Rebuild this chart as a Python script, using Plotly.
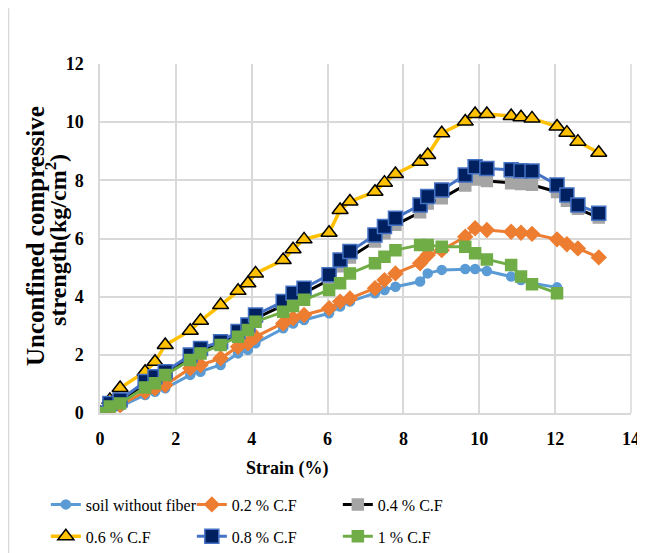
import plotly.graph_objects as go

strain = [0, 0.26, 0.53, 1.19, 1.45, 1.72, 2.38, 2.65, 3.18, 3.64, 3.9, 4.1,
          4.83, 5.09, 5.38, 6.04, 6.33, 6.59, 7.25, 7.5, 7.79, 8.44, 8.64, 9.01,
          9.63, 9.89, 10.2, 10.84, 11.1, 11.39, 12.05, 12.31, 12.6, 13.15]

soil = [0, 0.1, 0.22, 0.62, 0.73, 0.85, 1.31, 1.42, 1.65, 2.05, 2.17, 2.4,
        2.91, 3.08, 3.2, 3.43, 3.66, 3.83, 4.12, 4.23, 4.34, 4.52, 4.8, 4.92,
        4.95, 4.95, 4.88, 4.69, 4.57, 4.46, 4.32]
cf02 = [0, 0.12, 0.27, 0.73, 0.85, 0.96, 1.54, 1.65, 1.88, 2.28, 2.4, 2.62,
        3.08, 3.26, 3.37, 3.6, 3.83, 3.94, 4.29, 4.57, 4.8, 5.15, 5.43, 5.6,
        6.06, 6.35, 6.29, 6.23, 6.2, 6.16, 5.97, 5.8, 5.66, 5.35]
cf04 = [0, 0.3, 0.42, 1.0, 1.17, 1.35, 1.93, 2.15, 2.38, 2.72, 2.93, 3.25,
        3.7, 3.95, 4.12, 4.58, 5.05, 5.35, 5.9, 6.18, 6.47, 6.9, 7.2, 7.38,
        7.82, 8.03, 7.98, 7.9, 7.87, 7.85, 7.6, 7.3, 7.02, 6.72]
cf06 = [0, 0.45, 0.86, 1.42, 1.76, 2.34, 2.83, 3.17, 3.71, 4.2, 4.46, 4.8,
        5.26, 5.63, 5.97, 6.2, 6.98, 7.27, 7.61, 7.92, 8.22, 8.64, 8.87, 9.62,
        10.02, 10.28, 10.28, 10.21, 10.17, 10.13, 9.85, 9.64, 9.33, 8.95]
cf08 = [0, 0.33, 0.45, 1.08, 1.25, 1.42, 1.99, 2.22, 2.45, 2.8, 3.03, 3.37,
        3.83, 4.12, 4.29, 4.75, 5.26, 5.55, 6.12, 6.41, 6.7, 7.15, 7.44, 7.67,
        8.18, 8.47, 8.41, 8.36, 8.33, 8.32, 7.84, 7.5, 7.15, 6.87]
cf10 = [0, 0.22, 0.33, 0.88, 1.02, 1.31, 1.82, 2.05, 2.34, 2.62, 2.85, 3.14,
        3.48, 3.68, 3.89, 4.23, 4.46, 4.8, 5.15, 5.37, 5.6, 5.78, 5.78, 5.72,
        5.72, 5.49, 5.28, 5.09, 4.69, 4.43, 4.12]

names = ["soil without fiber", "0.2 % C.F", "0.4 % C.F", "0.6 % C.F", "0.8 % C.F", "1 % C.F"]
x_ticks = [0, 2, 4, 6, 8, 10, 12, 14]
y_ticks = [0, 2, 4, 6, 8, 10, 12]

FONT = "Liberation Serif"

fig = go.Figure()

def add(name, y, line_color, symbol, fill, outline, size, legend, lw=3):
    fig.add_trace(go.Scatter(
        x=strain[:len(y)], y=y, name=name, mode="lines+markers",
        legend=legend,
        line=dict(color=line_color, width=lw),
        marker=dict(symbol=symbol, color=fill, size=size,
                    line=dict(color=outline, width=1.5)),
    ))

add(names[0], soil, "#5B9BD5", "circle", "#5B9BD5", "#5B9BD5", 9, "legend")
add(names[1], cf02, "#ED7D31", "diamond", "#ED7D31", "#ED7D31", 11, "legend")
add(names[2], cf04, "#000000", "square", "#A5A5A5", "#A5A5A5", 11, "legend")
add(names[3], cf06, "#FFC000", "triangle-up", "#FFC000", "#000000", 14, "legend2", lw=3.5)
add(names[4], cf08, "#4472C4", "square", "#002060", "#4472C4", 14, "legend2")
add(names[5], cf10, "#70AD47", "square", "#70AD47", "#70AD47", 11, "legend2")

axis_font = dict(family=FONT, size=18, color="#000000")
leg_common = dict(
    orientation="h", x=-0.102, xanchor="left", yanchor="top",
    font=dict(family=FONT, size=16, color="#000000"),
    entrywidth=101, entrywidthmode="pixels",
    itemwidth=30, bgcolor="rgba(0,0,0,0)",
)

fig.update_layout(
    width=637, height=562,
    margin=dict(l=92, r=14, t=56, b=157),
    paper_bgcolor="white", plot_bgcolor="white",
    font=dict(family=FONT, color="#000000"),
    showlegend=True,
    legend=dict(y=-0.2135, **leg_common),
    legend2=dict(y=-0.305, **leg_common),
    xaxis=dict(
        range=[0, 14], tickvals=x_ticks, ticktext=[f"<b>{t}</b>" for t in x_ticks],
        showgrid=True, gridcolor="#D9D9D9", gridwidth=1.5,
        showline=True, linecolor="#D9D9D9", linewidth=1.5,
        zeroline=False, tickfont=axis_font, ticks="", ticklabelstandoff=9,
        automargin=False,
    ),
    yaxis=dict(
        range=[0, 12], tickvals=y_ticks, ticktext=[f"<b>{t}</b>" for t in y_ticks],
        showgrid=True, gridcolor="#D9D9D9", gridwidth=1.5,
        showline=True, linecolor="#D9D9D9", linewidth=1.5,
        zeroline=False, tickfont=axis_font, ticks="", ticklabelstandoff=11,
        automargin=False,
    ),
    annotations=[
        dict(text="<b>Strain (%)</b>", xref="paper", yref="paper",
             x=0.354, y=-0.158, xanchor="center", yanchor="middle",
             showarrow=False, font=dict(family=FONT, size=18, color="#000000")),
        dict(text="<b>Unconfined compressive</b>", xref="paper", yref="paper",
             x=-0.1224, y=0.507, xanchor="center", yanchor="middle", textangle=-90,
             showarrow=False, font=dict(family=FONT, size=25, color="#000000")),
        dict(text="<b>strength(kg/cm<sup>2</sup>)</b>", xref="paper", yref="paper",
             x=-0.0829, y=0.496, xanchor="center", yanchor="middle", textangle=-90,
             showarrow=False, font=dict(family=FONT, size=24, color="#000000")),
    ],
)

fig.add_shape(type="line", xref="paper", yref="paper",
              x0=-0.1723, x1=-0.1723, y0=-0.45, y1=1.16,
              line=dict(color="#D9D9D9", width=1.5))
fig.add_shape(type="line", xref="paper", yref="paper",
              x0=1, x1=1, y0=0, y1=1,
              line=dict(color="#D9D9D9", width=1.5))

fig.write_html("out.html")
